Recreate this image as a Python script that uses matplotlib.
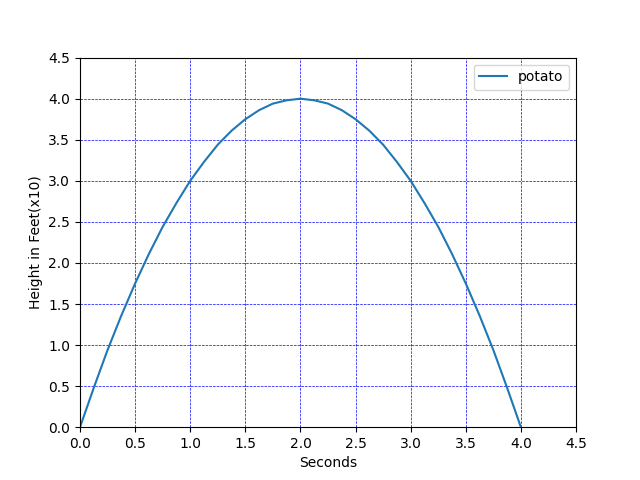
import matplotlib
matplotlib.use("Agg")
import matplotlib.pyplot as plt

# time in seconds and height (x10 ft)
seconds = [0.0, 0.125, 0.25, 0.375, 0.5, 0.625, 0.75, 0.875, 1.0,
           1.125, 1.25, 1.375, 1.5, 1.625, 1.75, 1.875, 2.0,
           2.125, 2.25, 2.375, 2.5, 2.625, 2.75, 2.875, 3.0,
           3.125, 3.25, 3.375, 3.5, 3.625, 3.75, 3.875, 4.0]
height = [0.0, 0.48, 0.94, 1.36, 1.75, 2.11, 2.44, 2.73, 3.0,
          3.23, 3.44, 3.61, 3.75, 3.86, 3.94, 3.98, 4.0,
          3.98, 3.94, 3.86, 3.75, 3.61, 3.44, 3.23, 3.0,
          2.73, 2.44, 2.11, 1.75, 1.36, 0.94, 0.48, 0.0]
ticks = [0.0, 0.5, 1.0, 1.5, 2.0, 2.5, 3.0, 3.5, 4.0, 4.5]

fig, ax = plt.subplots(figsize=(6.4, 4.8), dpi=100)
ax.plot(seconds, height, label='potato')
ax.set_xlim(0, 4.5)
ax.set_ylim(0, 4.5)
ax.set_xticks(ticks)
ax.set_yticks(ticks)
ax.grid(color='blue', linestyle='--', linewidth=0.5)
ax.set_xlabel('Seconds')
ax.set_ylabel('Height in Feet(x10)')
ax.legend(loc='upper right')

fig.savefig('out.png')
